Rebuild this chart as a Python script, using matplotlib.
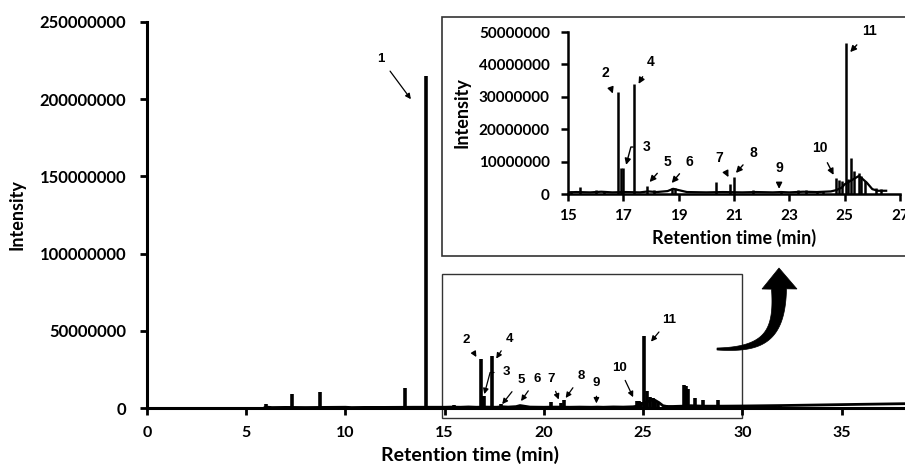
import matplotlib
matplotlib.use("Agg")
import matplotlib.pyplot as plt
import numpy as np
from matplotlib.patches import Rectangle, Polygon

# baseline of the chromatogram (retention time in min, intensity)
base_rt = [5.9, 6.0, 6.3, 7.0, 8.0, 9.0, 10.0, 10.3, 11.0, 12.0, 13.5, 14.5, 15.0,
           15.3, 15.8, 16.2, 16.6, 17.1, 17.6, 17.9, 18.2, 18.6, 18.8, 19.0, 19.3,
           20.0, 20.6, 21.3, 21.8, 22.4, 22.7, 23.0, 23.5, 24.0, 24.5, 24.7, 24.9,
           25.0, 25.2, 25.4, 25.5, 25.6, 25.8, 26.0, 26.2, 26.5, 27.0, 27.4, 28.0,
           29.0, 30.0, 32.0, 34.0, 36.0, 38.2]
base_int = [0.0e6, 0.6e6, 0.3e6, 0.4e6, 0.3e6, 0.4e6, 0.5e6, 0.3e6, 0.4e6, 0.4e6, 0.5e6, 0.5e6, 0.5e6,
            0.6e6, 0.5e6, 0.7e6, 0.5e6, 0.6e6, 0.5e6, 0.8e6, 0.6e6, 0.9e6, 1.6e6, 1.2e6, 0.6e6,
            0.5e6, 0.6e6, 0.5e6, 0.6e6, 0.5e6, 0.6e6, 0.5e6, 0.7e6, 0.6e6, 0.8e6, 1.2e6, 2.0e6,
            3.0e6, 4.0e6, 5.0e6, 5.5e6, 5.0e6, 3.5e6, 1.5e6, 1.0e6, 1.0e6, 1.2e6, 1.5e6, 1.2e6,
            1.2e6, 1.3e6, 1.6e6, 2.0e6, 2.4e6, 2.8e6]

# individual peaks (apex retention time, apex intensity)
peak_rt = [6.0, 7.3, 8.7, 10.0, 13.0, 14.05, 15.1, 15.45, 16.0, 16.3, 16.82, 16.92, 16.98,
           17.38, 17.85, 18.1, 18.75, 18.85, 20.35, 20.85, 21.0, 21.7, 22.7, 23.3, 23.6,
           24.0, 24.2, 24.7, 24.8, 24.9, 25.05, 25.12, 25.22, 25.35, 25.5, 25.6, 25.75,
           26.15, 26.3, 27.05, 27.15, 27.25, 27.6, 28.0, 28.8, 29.7, 31.9]
peak_int = [2.5e6, 9.0e6, 10.5e6, 1.2e6, 13.0e6, 215.0e6, 1.0e6, 2.2e6, 1.2e6, 0.8e6, 31.5e6, 8.0e6, 8.0e6,
            34.0e6, 2.5e6, 1.2e6, 2.0e6, 1.8e6, 3.6e6, 3.2e6, 5.2e6, 1.2e6, 0.6e6, 1.2e6, 1.2e6,
            0.8e6, 0.8e6, 4.8e6, 4.3e6, 4.0e6, 46.5e6, 4.5e6, 11.0e6, 7.0e6, 6.5e6, 5.5e6, 4.0e6,
            1.8e6, 1.5e6, 15.0e6, 14.0e6, 12.0e6, 6.5e6, 5.5e6, 5.5e6, 2.0e6, 2.2e6]

main_xticks = [0, 5, 10, 15, 20, 25, 30, 35]
main_yticks = [0, 50000000, 100000000, 150000000, 200000000, 250000000]
main_ylabels = ["0", "50000000", "100000000", "150000000", "200000000", "250000000"]
inset_xticks = [15, 17, 19, 21, 23, 25, 27]
inset_yticks = [0, 10000000, 20000000, 30000000, 40000000, 50000000]
inset_ylabels = ["0", "10000000", "20000000", "30000000", "40000000", "50000000"]

plt.rcParams['font.family'] = ['Lato', 'DejaVu Sans']

W, H = 905, 470
fig = plt.figure(figsize=(9.05, 4.7), dpi=100)

# main chromatogram
ax = fig.add_axes([0.1624, 0.1319, 0.8376, 0.8213])
ax.plot(base_rt, base_int, color='black', lw=2)
ax.vlines(peak_rt, 0, peak_int, color='black', lw=2.6)
ax.set_xlim(0, 38.2)
ax.set_ylim(0, 250000000)
ax.set_xticks(main_xticks)
ax.set_xticklabels([str(t) for t in main_xticks], fontsize=11.5, fontweight='bold')
ax.set_yticks(main_yticks)
ax.set_yticklabels(main_ylabels, fontsize=12, fontweight='bold')
for s in ['top', 'right']:
    ax.spines[s].set_visible(False)
for s in ['left', 'bottom']:
    ax.spines[s].set_linewidth(2.2)
ax.tick_params(direction='out', length=5, width=2, pad=10)
ax.tick_params(axis='x', pad=8)
ax.set_ylabel('Intensity', fontsize=13, fontweight='bold', labelpad=10)
fig.text(470 / W, 1 - 455 / H, 'Retention time (min)', fontsize=14,
         fontweight='bold', ha='center', va='center')

# zoom window on the main chart
ax.add_patch(Rectangle((14.85, -6.5e6), 30 - 14.85, 93.5e6, fill=False,
                       edgecolor='#333333', lw=1, clip_on=False, zorder=1))

main_notes = [("1", 11.8, 226e6, 13.3, 200e6),
              ("2", 16.1, 44e6, 16.6, 33e6),
              ("4", 18.25, 45e6, 17.6, 32e6),
              ("5", 18.85, 18e6, 17.9, 2.5e6),
              ("6", 19.65, 19e6, 18.85, 4.5e6),
              ("7", 20.35, 19e6, 20.75, 5.5e6),
              ("8", 21.9, 21e6, 21.1, 6.5e6),
              ("9", 22.65, 16e6, 22.65, 3e6),
              ("10", 23.8, 26e6, 24.5, 7e6),
              ("11", 26.3, 57e6, 25.4, 43e6)]
for lab, tx, ty, px, py in main_notes:
    ax.annotate(lab, xy=(px, py), xytext=(tx, ty), fontsize=9.5, ha='center', va='center',
                family='Liberation Sans', fontweight='bold',
                arrowprops=dict(arrowstyle='-|>', color='black', lw=0.9,
                                mutation_scale=8, shrinkA=3, shrinkB=0))
ax.annotate("3", xy=(17.0, 9e6), xytext=(18.1, 23e6), fontsize=9.5, ha='center', va='center',
            family='Liberation Sans', fontweight='bold',
            arrowprops=dict(arrowstyle='-|>', color='black', lw=0.9, mutation_scale=8,
                            shrinkA=4, shrinkB=0,
                            connectionstyle='angle,angleA=180,angleB=75,rad=0'))

# inset frame
fig.patches.append(Rectangle((442 / W, 1 - 256 / H), 0.6, 239 / H,
                             transform=fig.transFigure, facecolor='white',
                             edgecolor='#333333', lw=1.2, zorder=2))

ins = fig.add_axes([568 / W, 1 - 194 / H, 332 / W, 162 / H], zorder=3)
ins.patch.set_alpha(0)
in_base_rt = [t for t in base_rt if 15 <= t <= 26.5]
in_base_int = [v for t, v in zip(base_rt, base_int) if 15 <= t <= 26.5]
in_peak_rt = [t for t in peak_rt if 15 <= t <= 26.5]
in_peak_int = [v for t, v in zip(peak_rt, peak_int) if 15 <= t <= 26.5]
ins.plot(in_base_rt, in_base_int, color='black', lw=1.6)
ins.vlines(in_peak_rt, 0, in_peak_int, color='black', lw=1.8)
ins.set_xlim(15, 27)
ins.set_ylim(0, 50000000)
ins.set_xticks(inset_xticks)
ins.set_xticklabels([str(t) for t in inset_xticks], fontsize=11, fontweight='bold')
ins.set_yticks(inset_yticks)
ins.set_yticklabels(inset_ylabels, fontsize=11, fontweight='bold')
for s in ['top', 'right']:
    ins.spines[s].set_visible(False)
for s in ['left', 'bottom']:
    ins.spines[s].set_linewidth(1.8)
ins.tick_params(direction='out', length=5, width=1.8, pad=8)
ins.tick_params(axis='x', pad=6)
ins.set_ylabel('Intensity', fontsize=13, fontweight='bold', labelpad=6)
ins.set_xlabel('Retention time (min)', fontsize=13, fontweight='bold', labelpad=4)

inset_notes = [("2", 16.35, 37.3e6, 16.62, 31e6),
               ("4", 18.0, 40.7e6, 17.55, 34e6),
               ("5", 18.6, 10e6, 17.95, 3.7e6),
               ("6", 19.4, 10e6, 18.75, 3.4e6),
               ("7", 20.46, 11e6, 20.8, 5.2e6),
               ("8", 21.7, 12.6e6, 21.07, 6.5e6),
               ("9", 22.63, 7.9e6, 22.63, 1.6e6),
               ("10", 24.1, 14.2e6, 24.6, 5.9e6),
               ("11", 25.9, 50.3e6, 25.2, 43.8e6)]
for lab, tx, ty, px, py in inset_notes:
    ins.annotate(lab, xy=(px, py), xytext=(tx, ty), fontsize=10, ha='center', va='center',
                 family='Liberation Sans', fontweight='bold', annotation_clip=False,
                 arrowprops=dict(arrowstyle='-|>', color='black', lw=1,
                                 mutation_scale=9, shrinkA=4, shrinkB=0))
ins.annotate("3", xy=(17.1, 9e6), xytext=(17.85, 14.5e6), fontsize=10, ha='center', va='center',
             family='Liberation Sans', fontweight='bold',
             arrowprops=dict(arrowstyle='-|>', color='black', lw=1, mutation_scale=9,
                             shrinkA=5, shrinkB=0,
                             connectionstyle='angle,angleA=180,angleB=75,rad=0'))

# curved, tapering arrow from the zoom window up to the inset (pixel coords, y down)
p0, p1, p2, p3 = map(np.array, [(717, 349), (765, 350), (780, 335), (779, 289)])
s = np.linspace(0, 1, 80)[:, None]
centre = (1 - s) ** 3 * p0 + 3 * (1 - s) ** 2 * s * p1 + 3 * (1 - s) * s ** 2 * p2 + s ** 3 * p3
deriv = 3 * (1 - s) ** 2 * (p1 - p0) + 6 * (1 - s) * s * (p2 - p1) + 3 * s ** 2 * (p3 - p2)
normal = np.column_stack([-deriv[:, 1], deriv[:, 0]]) / np.linalg.norm(deriv, axis=1)[:, None]
half = (1.0 + 6.5 * s)
side_a = centre + normal * half
side_b = centre - normal * half
head = np.array([[762, 289], [779, 268], [797, 289]])
outline = np.vstack([side_a, head if side_a[-1, 0] < 779 else head[::-1], side_b[::-1]])
fig.patches.append(Polygon([(x / W, 1 - y / H) for x, y in outline], closed=True,
                           transform=fig.transFigure, facecolor='black',
                           edgecolor='black', lw=0.5, zorder=4))

fig.savefig('out.png', dpi=100)
